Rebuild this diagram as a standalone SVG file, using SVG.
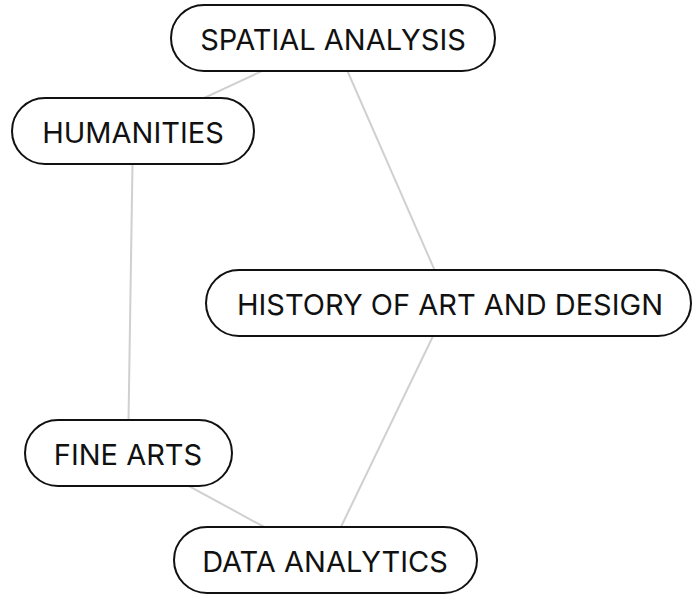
<svg xmlns="http://www.w3.org/2000/svg" width="693" height="595" viewBox="0 0 693 595">
<style>
.edge{stroke:#d0d0d0;stroke-width:2;fill:none}
.node rect{fill:#fff;stroke:#111;stroke-width:2}
.node text{font-family:Inter,"Liberation Sans",sans-serif;font-size:29px;fill:#111;text-anchor:middle;dominant-baseline:central}
</style>
<rect width="693" height="595" fill="#fff"/>
<g id="connectors">
<line class="edge" x1="333" y1="38" x2="133" y2="131"/>
<line class="edge" x1="333" y1="38" x2="449" y2="303"/>
<line class="edge" x1="133" y1="131" x2="128" y2="453"/>
<line class="edge" x1="449" y1="303" x2="325" y2="560"/>
<line class="edge" x1="128" y1="453" x2="325" y2="560"/>
</g>
<g id="spatial-analysis" class="node"><rect x="171" y="5" width="324" height="66" rx="33"/><text x="333" y="39">SPATIAL ANALYSIS</text></g>
<g id="humanities" class="node"><rect x="12" y="98" width="242" height="66" rx="33"/><text x="133" y="132">HUMANITIES</text></g>
<g id="history-of-art-and-design" class="node"><rect x="206" y="270" width="485" height="66" rx="33"/><text x="450" y="304">HISTORY OF ART AND DESIGN</text></g>
<g id="fine-arts" class="node"><rect x="25" y="420" width="207" height="66" rx="33"/><text x="128" y="454">FINE ARTS</text></g>
<g id="data-analytics" class="node"><rect x="174" y="527" width="303" height="66" rx="33"/><text x="325" y="561">DATA ANALYTICS</text></g>
</svg>
